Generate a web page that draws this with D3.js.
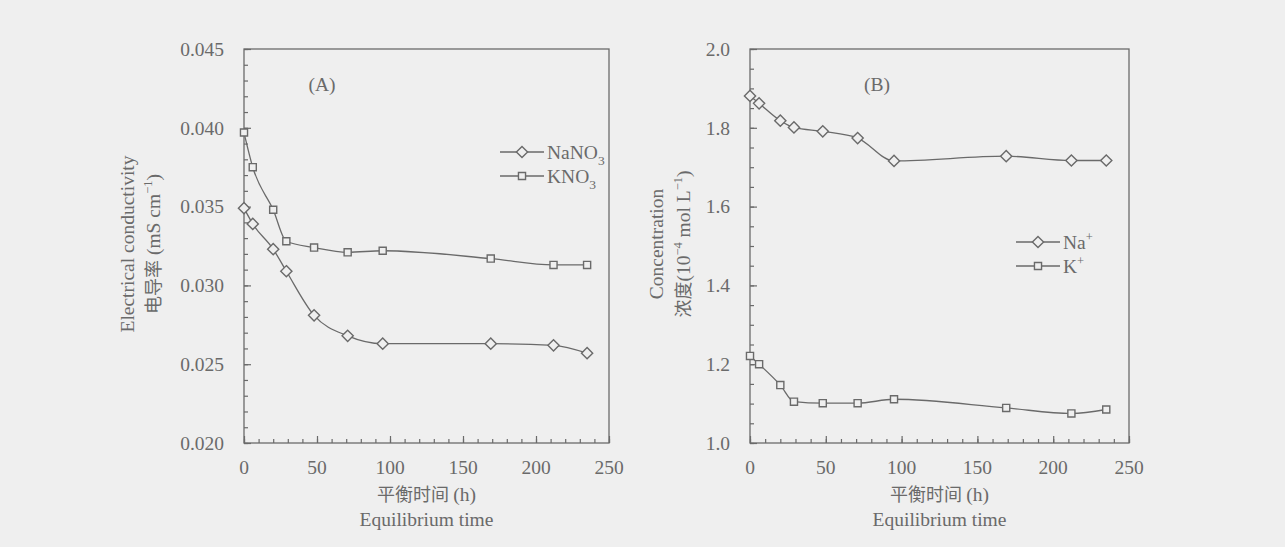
<!DOCTYPE html>
<html lang="zh">
<head>
<meta charset="UTF-8">
<title>Equilibrium time</title>
<script src="https://d3js.org/d3.v7.min.js"></script>
<style>
  body { margin: 0; background: #efefef; }
  svg text { font-family: "Liberation Serif", "Times New Roman", serif; fill: #6a6a6a; }
  .cjk { font-family: "Noto Sans CJK SC", sans-serif; }
</style>
</head>
<body>
<script>
// equilibrium times (h), shared by both panels
const hours = [0, 6, 20, 29, 48, 71, 95, 169, 212, 235];

// panel A: electrical conductivity (mS cm-1)
const nano3 = [0.0349, 0.0339, 0.0323, 0.0309, 0.0281, 0.0268, 0.0263, 0.0263, 0.0262, 0.0257];
const kno3  = [0.0397, 0.0375, 0.0348, 0.0328, 0.0324, 0.0321, 0.0322, 0.0317, 0.0313, 0.0313];

// panel B: concentration (10^-4 mol L-1)
const naIon = [1.881, 1.862, 1.818, 1.801, 1.791, 1.774, 1.716, 1.728, 1.717, 1.717];
const kIon  = [1.221, 1.200, 1.147, 1.105, 1.101, 1.101, 1.111, 1.089, 1.075, 1.085];

const xTicks = [0, 50, 100, 150, 200, 250];

const W = 1285, H = 547;
const ink = "#6a6a6a";
const fs = 19.5, sup = 12.5;

const svg = d3.select("body").append("svg")
    .attr("width", W).attr("height", H);

function panel(cfg) {
    const x = d3.scaleLinear().domain([0, 250]).range([cfg.left, cfg.right]);
    const y = d3.scaleLinear().domain(cfg.yDomain).range([443, 49]);
    const g = svg.append("g");

    // frame
    g.append("rect")
        .attr("x", cfg.left).attr("y", 49)
        .attr("width", cfg.right - cfg.left).attr("height", 443 - 49)
        .attr("fill", "none").attr("stroke", ink).attr("stroke-width", 1.3);

    // y axis (ticks inward)
    const yAxis = d3.axisRight(y).tickValues(cfg.yTicks).tickSize(7).tickFormat("");
    const yMinor = d3.axisRight(y).ticks(25).tickSize(4).tickFormat("");
    g.append("g").attr("transform", `translate(${cfg.left},0)`).call(yMinor);
    g.append("g").attr("transform", `translate(${cfg.left},0)`).call(yAxis);
    // x axis (ticks inward)
    const xAxis = d3.axisTop(x).tickValues(xTicks).tickSize(7).tickFormat("");
    const xMinor = d3.axisTop(x).ticks(25).tickSize(4).tickFormat("");
    g.append("g").attr("transform", "translate(0,443)").call(xMinor);
    g.append("g").attr("transform", "translate(0,443)").call(xAxis);
    g.selectAll(".domain").remove();
    g.selectAll(".tick line").attr("stroke", ink).attr("stroke-width", 1.2);

    // tick labels
    g.selectAll(".ylab").data(cfg.yTicks).join("text")
        .attr("x", cfg.left - 20).attr("y", d => y(d))
        .attr("dy", "0.35em").attr("text-anchor", "end")
        .attr("font-size", fs).text(cfg.yFormat);
    g.selectAll(".xlab").data(xTicks).join("text")
        .attr("x", d => x(d)).attr("y", 467)
        .attr("dy", "0.35em").attr("text-anchor", "middle")
        .attr("font-size", fs).text(d => d);

    // x title
    const xc = (cfg.left + cfg.right) / 2 + cfg.xTitleShift;
    g.append("text").attr("x", xc).attr("y", 501).attr("text-anchor", "middle")
        .attr("font-size", fs)
        .call(t => {
            t.append("tspan").attr("class", "cjk").attr("font-size", 18).text("平衡时间 ");
            t.append("tspan").text("(h)");
        });
    g.append("text").attr("x", xc).attr("y", 526).attr("text-anchor", "middle")
        .attr("font-size", fs).text("Equilibrium time");

    // y title (two lines)
    g.append("text").attr("transform", `translate(${cfg.yTitleX1},244) rotate(-90)`)
        .attr("text-anchor", "middle").attr("font-size", fs).text(cfg.yTitle1);
    const t2 = g.append("text").attr("transform", `translate(${cfg.yTitleX2},244) rotate(-90)`)
        .attr("text-anchor", "middle").attr("font-size", fs);
    cfg.yTitle2(t2);

    // panel letter
    g.append("text").attr("x", cfg.letterX).attr("y", 91).attr("text-anchor", "middle")
        .attr("font-size", fs).text(cfg.letter);

    const line = d3.line().curve(d3.curveMonotoneX)
        .x((d, i) => x(hours[i])).y(d => y(d));

    const diamond = d3.symbol().type(d3.symbolDiamond2).size(80);
    const square = d3.symbol().type(d3.symbolSquare2).size(64);

    cfg.series.forEach(s => {
        g.append("path").datum(s.values).attr("d", line)
            .attr("fill", "none").attr("stroke", ink).attr("stroke-width", 1.3);
        g.selectAll(null).data(s.values).join("path")
            .attr("transform", (d, i) => `translate(${x(hours[i])},${y(d)})`)
            .attr("d", s.shape === "diamond" ? diamond : square)
            .attr("fill", "#efefef").attr("stroke", ink).attr("stroke-width", 1.4);
    });

    // legend
    cfg.series.forEach((s, i) => {
        const ly = cfg.legendY + i * 24;
        g.append("line").attr("x1", cfg.legendX).attr("x2", cfg.legendX + 44)
            .attr("y1", ly).attr("y2", ly).attr("stroke", ink).attr("stroke-width", 1.3);
        g.append("path").attr("transform", `translate(${cfg.legendX + 22},${ly})`)
            .attr("d", s.shape === "diamond" ? diamond : square)
            .attr("fill", "#efefef").attr("stroke", ink).attr("stroke-width", 1.4);
        const tx = g.append("text").attr("x", cfg.legendX + 47).attr("y", ly)
            .attr("dy", "0.35em").attr("font-size", fs);
        s.label(tx);
    });
}

panel({
    left: 244, right: 609,
    yDomain: [0.020, 0.045],
    yTicks: [0.020, 0.025, 0.030, 0.035, 0.040, 0.045],
    yFormat: d3.format(".3f"),
    xTitleShift: 0,
    yTitleX1: 134, yTitleX2: 160,
    yTitle1: "Electrical conductivity",
    yTitle2: t => {
        t.append("tspan").attr("class", "cjk").attr("font-size", 18).text("电导率");
        t.append("tspan").text(" (mS cm");
        t.append("tspan").attr("dy", -8).attr("font-size", sup).text("−1");
        t.append("tspan").attr("dy", 8).text(")");
    },
    letter: "(A)", letterX: 322,
    legendX: 500, legendY: 152,
    series: [
        { values: nano3, shape: "diamond", label: t => {
            t.append("tspan").text("NaNO");
            t.append("tspan").attr("dy", 6).attr("font-size", sup + 1).text("3");
        } },
        { values: kno3, shape: "square", label: t => {
            t.append("tspan").text("KNO");
            t.append("tspan").attr("dy", 6).attr("font-size", sup + 1).text("3");
        } }
    ]
});

panel({
    left: 750, right: 1129,
    yDomain: [1.0, 2.0],
    yTicks: [1.0, 1.2, 1.4, 1.6, 1.8, 2.0],
    yFormat: d3.format(".1f"),
    xTitleShift: 0,
    yTitleX1: 663, yTitleX2: 690,
    yTitle1: "Concentration",
    yTitle2: t => {
        t.append("tspan").attr("class", "cjk").attr("font-size", 18).text("浓度");
        t.append("tspan").text("(10");
        t.append("tspan").attr("dy", -8).attr("font-size", sup).text("−4");
        t.append("tspan").attr("dy", 8).text(" mol L");
        t.append("tspan").attr("dy", -8).attr("font-size", sup).text("−1");
        t.append("tspan").attr("dy", 8).text(")");
    },
    letter: "(B)", letterX: 877,
    legendX: 1016, legendY: 242,
    series: [
        { values: naIon, shape: "diamond", label: t => {
            t.append("tspan").text("Na");
            t.append("tspan").attr("dy", -8).attr("font-size", sup).text("+");
        } },
        { values: kIon, shape: "square", label: t => {
            t.append("tspan").text("K");
            t.append("tspan").attr("dy", -8).attr("font-size", sup).text("+");
        } }
    ]
});
</script>
</body>
</html>
